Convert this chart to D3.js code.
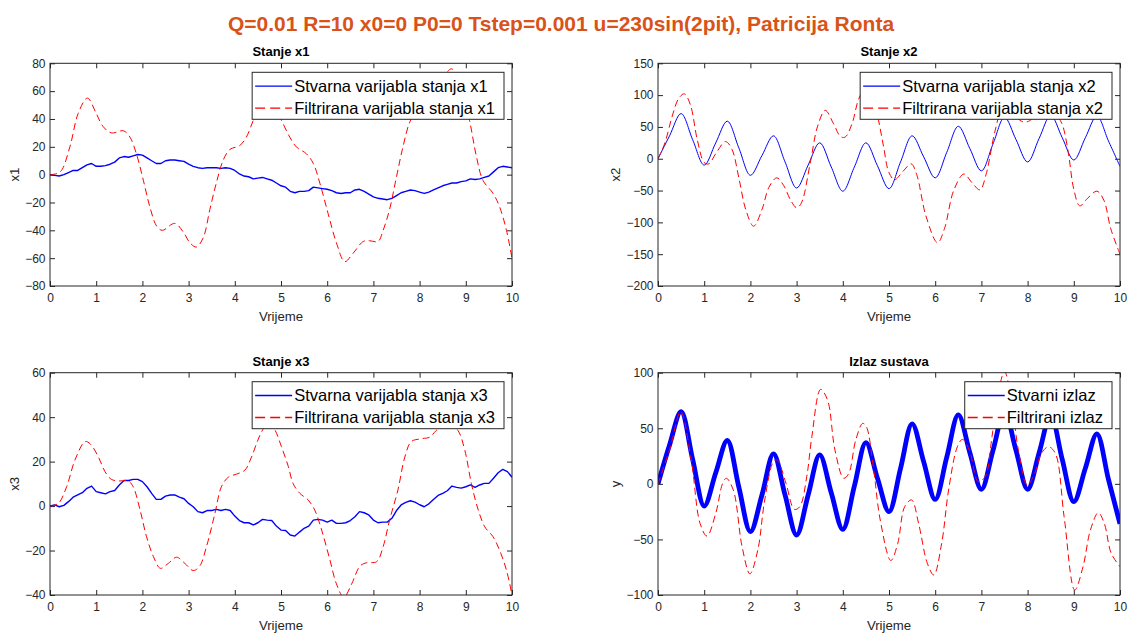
<!DOCTYPE html>
<html><head><meta charset="utf-8">
<script src="https://cdn.jsdelivr.net/npm/d3@7"></script>
<style>
body{margin:0;background:#fff}
svg{display:block}
text{font-family:"Liberation Sans",Arial,Helvetica,sans-serif;fill:#262626}
</style>
</head><body>
<svg id="chart" width="1130" height="633"></svg>
<script>
// ---------------- DATA ----------------
const mainTitle = "Q=0.01 R=10 x0=0 P0=0 Tstep=0.001 u=230sin(2pit), Patricija Ronta";
const xTickValues = [0,1,2,3,4,5,6,7,8,9,10];
const xLabel = "Vrijeme";
const titles = ["Stanje x1","Stanje x2","Stanje x3","Izlaz sustava"];
const yLabels = ["x1","x2","x3","y"];
const yTicksX1 = [-80,-60,-40,-20,0,20,40,60,80];
const yTicksX2 = [-200,-150,-100,-50,0,50,100,150];
const yTicksX3 = [-40,-20,0,20,40,60];
const yTicksY  = [-100,-50,0,50,100];
const legendTrue = ["Stvarna varijabla stanja x1","Stvarna varijabla stanja x2","Stvarna varijabla stanja x3","Stvarni izlaz"];
const legendFilt = ["Filtrirana varijabla stanja x1","Filtrirana varijabla stanja x2","Filtrirana varijabla stanja x3","Filtrirani izlaz"];

// sample grids (time, s)
const tTenth = d3.range(0,101).map(i=>i/10);
const tQuarter = d3.range(0,41).map(i=>i/4);

// true state x1 (every 0.1 s)
const x1True = [0,-0.5,-1,0,1.5,3,3,5,7,8,6,6,6.5,7.5,9,12,13,12.5,13.5,14.5,
14,12,10,8,8,10,10.5,10.5,10,9.5,7.5,6,5,4.5,5,5,5,4.5,5,4.5,
3,0.5,-1,-1.5,-3,-2.5,-2,-3,-4,-6,-8,-9,-12,-13,-12,-12,-11.5,-9,-9.5,-10,
-10.5,-11.5,-13,-13.5,-13,-13,-11,-10.5,-12,-14,-16,-17,-17.5,-18,-17,-15,-13,-12,-11,-11.5,
-12.5,-13.5,-12.5,-11,-9.5,-8,-7,-6,-6,-5,-4.5,-3,-3.5,-3,-2,-1,2,5,6,5.5,5];
// filtered x1 (key points)
const x1FiltT = [0,0.22,0.43,0.61,0.81,1.0,1.15,1.33,1.59,1.73,1.87,2.02,2.16,2.31,2.43,2.7,2.88,3.03,3.17,3.32,3.46,3.6,3.75,3.89,4.11,4.25,4.4,4.55,4.7,4.85,5.01,5.19,5.33,5.55,5.7,5.84,6.02,6.2,6.38,6.56,6.78,6.92,7.1,7.21,7.35,7.5,7.64,7.79,8.0,8.2,8.45,8.69,8.9,9.08,9.23,9.37,9.59,9.73,9.88,10];
const x1FiltV = [0,2,20,44,55,44,34.5,30,31.5,27,15,-4,-23,-37,-40,-35,-41,-49,-52,-45,-25,-6,10.5,18,21,27,39,50,55,50,39,27,20,15,8,-6,-28,-49,-62.5,-56.5,-48,-47.5,-48,-40,-25,-1.5,20,38,50,53,66,76,62,39,13,-4,-13.5,-23,-40,-60];

// true state x2 (every 0.25 s)
const x2True = [0,36,71,30,-10,25,59,17,-26,5,36,-5,-46,-10,25,-13,-51,-13,25,-11,-47,-5,36,3,-30,10,51,16,-19,23,65,30,-5,32,68,33,-2,33,67,28,-12];
// filtered x2 (key points)
const x2FiltT = [0,0.15,0.3,0.45,0.57,0.7,0.85,1.0,1.1,1.25,1.46,1.6,1.75,1.9,2.07,2.25,2.4,2.57,2.72,2.87,3.0,3.1,3.3,3.45,3.62,3.8,3.95,4.05,4.2,4.35,4.55,4.75,4.88,5.0,5.12,5.3,5.48,5.6,5.8,6.05,6.2,6.4,6.62,6.8,6.97,7.1,7.3,7.5,7.7,7.9,8.05,8.25,8.45,8.62,8.75,8.88,9.0,9.13,9.3,9.5,9.65,9.8,10];
const x2FiltV = [0,25,65,95,102,85,30,-6,-8,8,27,15,-30,-80,-106,-80,-45,-30,-42,-65,-77,-70,-5,50,76,55,35,34,55,95,118,68,20,-22,-33,-20,-8,-25,-90,-132,-110,-50,-24,-38,-49,-25,45,90,70,58,60,80,95,70,54,10,-48,-74,-62,-51,-65,-110,-150];

// true state x3 (every 0.1 s)
const x3True = [0,0.5,-0.3,0.3,2,4,5,6,8,9,6.5,6,5.5,6.5,7,9.5,11.5,11.5,12,12,
11,8.7,5.7,3,3,4.5,5,5,4,3.3,1.2,-0.3,-2.5,-3,-2,-2,-1.5,-2,-1.5,-2,
-4.5,-6.5,-7.5,-7.5,-8.5,-7.5,-6,-6.3,-6.5,-9,-10.8,-11,-13,-13.5,-11.7,-10,-9,-6.3,-6,-6.3,
-7.2,-6.3,-7.8,-7.8,-7.5,-6.5,-4.8,-2.5,-3,-4,-6.3,-7.5,-7.2,-7.2,-5.5,-2,0.5,1.7,2.4,1.8,
0.6,-0.3,1,3,4.8,5.7,6.9,9,8.4,8.1,8.7,9.5,8.4,9.5,10.2,10.2,12.5,15,16.5,15.5,13];
// filtered x3 (key points)
const x3FiltT = [0,0.18,0.36,0.54,0.76,0.87,1.05,1.19,1.33,1.51,1.69,1.8,1.95,2.09,2.24,2.39,2.56,2.74,2.92,3.1,3.24,3.39,3.57,3.71,3.86,4.04,4.22,4.36,4.5,4.61,4.75,4.87,5.01,5.16,5.26,5.41,5.59,5.73,5.88,6.06,6.2,6.36,6.53,6.71,6.85,7.07,7.21,7.35,7.53,7.68,7.82,8.04,8.22,8.36,8.6,8.83,8.98,9.12,9.27,9.41,9.59,9.73,9.88,10];
const x3FiltV = [0,1.2,8.7,20.7,29,28,22,15.5,12,11.3,11.4,8.7,-1.8,-13.8,-22.8,-28,-25.8,-23,-25.8,-29,-27,-18,-3.3,8.7,13,14.4,16.2,22,29.7,34.5,37.5,34.2,26.7,17.7,10.2,5.7,2.7,-1.8,-10.8,-24.3,-35,-41,-35,-27,-25.5,-25,-18.3,-6.3,7.2,22,29,30.3,31,34,38,34,25,10.2,-1.8,-9.3,-13.8,-19.8,-28.8,-40];

// true output y (every 0.25 s, centre of the noisy band)
const yTrue = [0,35,65,22,-20,10,39,-3,-43,-10,27,-10,-46,-10,26,-8,-41,-2,37,5,-25,14,54,20,-14,24,62,28,-5,30,65,30,-5,28,62,22,-16,14,45,4,-36];
// filtered output (key points)
const yFiltT = [0,0.27,0.49,0.72,0.91,1.06,1.25,1.4,1.48,1.63,1.82,1.99,2.16,2.31,2.5,2.58,2.77,2.95,3.07,3.22,3.33,3.52,3.67,3.83,4.02,4.13,4.28,4.43,4.51,4.66,4.81,5.04,5.19,5.34,5.49,5.64,5.83,5.97,6.14,6.29,6.48,6.59,6.74,6.93,7.08,7.23,7.35,7.5,7.65,7.8,7.99,8.14,8.3,8.45,8.6,8.79,9.02,9.2,9.36,9.53,9.66,9.81,10];
const yFiltV = [0,33.4,65,21.5,-35.5,-47,-26.5,0.5,5,-5.5,-56.5,-81,-59.5,-14.5,20,21.5,0.5,-23,-20.5,6.5,42.5,85,75.4,30.4,5,9.5,39.4,54.4,51.4,15.5,-32.5,-69,-53.5,-20.5,-14.5,-35.5,-71.5,-82,-53.5,-5.5,33.4,40,30.4,2,6.5,42.5,78.4,101,75.4,30.4,-1,8,27.5,33.4,27.5,-29.5,-95.5,-74.5,-41.5,-26,-35.5,-62.5,-74.5];

// ---------------- LAYOUT ----------------
const W = 1130, H = 633;
const colL = [50, 512], colR = [658, 1120];
const rowT = [63.3, 286], rowB = [372.7, 595];
const axisColor = "#262626";
const blue = "#0000ff", red = "#ff0000";

const panels = [
  {xr: colL, yr: rowT, domain: [-80,80],  ticks: yTicksX1,
   trueT: tTenth, trueV: x1True, trueCurve: d3.curveLinear, trueW: 1.4,
   filtT: x1FiltT, filtV: x1FiltV},
  {xr: colR, yr: rowT, domain: [-200,150], ticks: yTicksX2,
   trueT: tQuarter, trueV: x2True, trueCurve: d3.curveCatmullRom.alpha(0.5), trueW: 1,
   filtT: x2FiltT, filtV: x2FiltV},
  {xr: colL, yr: rowB, domain: [-40,60], ticks: yTicksX3,
   trueT: tTenth, trueV: x3True, trueCurve: d3.curveLinear, trueW: 1.4,
   filtT: x3FiltT, filtV: x3FiltV},
  {xr: colR, yr: rowB, domain: [-100,100], ticks: yTicksY,
   trueT: tQuarter, trueV: yTrue, trueCurve: d3.curveCatmullRom.alpha(0.5), trueW: 4.8,
   filtT: yFiltT, filtV: yFiltV}
];

const svg = d3.select("#chart");
svg.append("rect").attr("width",W).attr("height",H).attr("fill","#fff");

// main title
svg.append("text")
  .attr("x", 561).attr("y", 31)
  .attr("text-anchor","middle")
  .attr("font-size", 21).attr("font-weight","bold")
  .style("fill","#D95319")
  .text(mainTitle);

panels.forEach((p, i) => {
  const x = d3.scaleLinear().domain([0,10]).range(p.xr);
  const y = d3.scaleLinear().domain(p.domain).range([p.yr[1], p.yr[0]]);
  const g = svg.append("g");
  const clipId = "clip" + i;
  g.append("clipPath").attr("id", clipId).append("rect")
    .attr("x", p.xr[0]).attr("y", p.yr[0])
    .attr("width", p.xr[1]-p.xr[0]).attr("height", p.yr[1]-p.yr[0]);

  // axes
  const fs = 12;
  const axB = g.append("g").attr("transform",`translate(0,${p.yr[1]})`)
    .call(d3.axisBottom(x).tickValues(xTickValues).tickSizeInner(-5).tickSizeOuter(0).tickPadding(7.5).tickFormat(d3.format("d")));
  const axT = g.append("g").attr("transform",`translate(0,${p.yr[0]})`)
    .call(d3.axisTop(x).tickValues(xTickValues).tickSizeInner(-5).tickSizeOuter(0).tickFormat(""));
  const axL = g.append("g").attr("transform",`translate(${p.xr[0]},0)`)
    .call(d3.axisLeft(y).tickValues(p.ticks).tickSizeInner(-5).tickSizeOuter(0).tickPadding(4.5).tickFormat(d3.format("d")));
  const axR = g.append("g").attr("transform",`translate(${p.xr[1]},0)`)
    .call(d3.axisRight(y).tickValues(p.ticks).tickSizeInner(-5).tickSizeOuter(0).tickFormat(""));
  [axB,axT,axL,axR].forEach(a => {
    a.select(".domain").remove();
    a.selectAll("line").attr("stroke", axisColor);
    a.selectAll("text").attr("font-size", fs).attr("font-family",null).style("fill", axisColor);
  });

  // data lines
  const lineTrue = d3.line().x((d,j)=>x(p.trueT[j])).y(d=>y(d)).curve(p.trueCurve);
  const lineFilt = d3.line().x((d,j)=>x(p.filtT[j])).y(d=>y(d)).curve(d3.curveCatmullRom.alpha(0.5));
  const lines = g.append("g").attr("clip-path",`url(#${clipId})`);
  lines.append("path").attr("d", lineTrue(p.trueV))
    .attr("fill","none").attr("stroke", blue).attr("stroke-width", p.trueW)
    .attr("stroke-linejoin","round");
  lines.append("path").attr("d", lineFilt(p.filtV))
    .attr("fill","none").attr("stroke", red).attr("stroke-width", 1)
    .attr("stroke-dasharray","7,4");

  // box
  g.append("rect").attr("x", p.xr[0]).attr("y", p.yr[0])
    .attr("width", p.xr[1]-p.xr[0]).attr("height", p.yr[1]-p.yr[0])
    .attr("fill","none").attr("stroke", axisColor).attr("stroke-width",1);

  // titles / labels
  const cx = (p.xr[0]+p.xr[1])/2;
  g.append("text").attr("x", cx).attr("y", p.yr[0]-7)
    .attr("text-anchor","middle").attr("font-size",13).attr("font-weight","bold")
    .style("fill","#000").text(titles[i]);
  g.append("text").attr("x", cx).attr("y", p.yr[1]+35)
    .attr("text-anchor","middle").attr("font-size",13.2).text(xLabel);
  let maxW = 0;
  axL.selectAll("text").each(function(){ maxW = Math.max(maxW, this.getComputedTextLength()); });
  const ylx = p.xr[0] - 4.5 - maxW - 11;
  const cy = (p.yr[0]+p.yr[1])/2;
  g.append("text").attr("transform",`translate(${ylx},${cy}) rotate(-90)`)
    .attr("text-anchor","middle").attr("dy","0.35em").attr("font-size",13.2).text(yLabels[i]);

  // legend
  const lg = g.append("g");
  const lfs = 16.5;
  const t1 = lg.append("text").attr("font-size",lfs).style("fill","#000").text(legendTrue[i]);
  const t2 = lg.append("text").attr("font-size",lfs).style("fill","#000").text(legendFilt[i]);
  const tw = Math.max(t1.node().getComputedTextLength(), t2.node().getComputedTextLength());
  const lw = 42 + tw + 9, lh = 47;
  const lx = p.xr[1] - 8 - lw, ly = p.yr[0] + 9;
  lg.insert("rect","text").attr("x",lx).attr("y",ly).attr("width",lw).attr("height",lh)
    .attr("fill","#fff").attr("stroke",axisColor).attr("stroke-width",1);
  const r1 = ly + 13.8, r2 = ly + 35.8;
  t1.attr("x", lx+42).attr("y", r1).attr("dy","0.35em");
  t2.attr("x", lx+42).attr("y", r2).attr("dy","0.35em");
  lg.append("line").attr("x1",lx+3).attr("x2",lx+40).attr("y1",r1).attr("y2",r1)
    .attr("stroke",blue).attr("stroke-width",1.3);
  lg.append("line").attr("x1",lx+3).attr("x2",lx+40).attr("y1",r2).attr("y2",r2)
    .attr("stroke",red).attr("stroke-width",1.3).attr("stroke-dasharray","10,5");
});
</script>
</body></html>
